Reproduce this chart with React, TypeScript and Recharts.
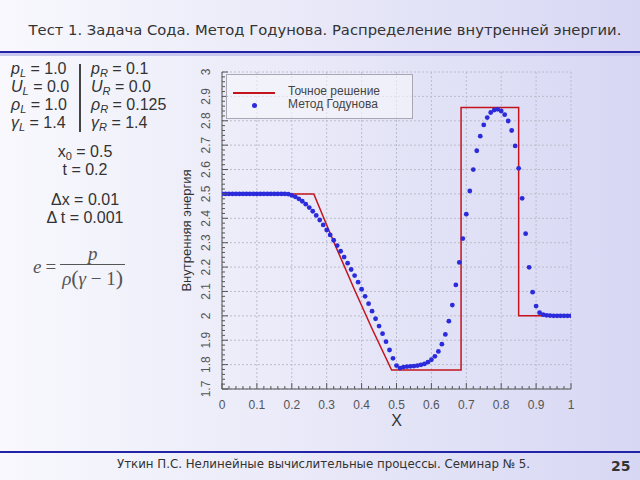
import React from "react";
import { ComposedChart, Line, Scatter, XAxis, YAxis, CartesianGrid } from "recharts";

// axis ticks
const xTicks = [0, 0.1, 0.2, 0.3, 0.4, 0.5, 0.6, 0.7, 0.8, 0.9, 1];
const yTicks = [1.7, 1.8, 1.9, 2, 2.1, 2.2, 2.3, 2.4, 2.5, 2.6, 2.7, 2.8, 2.9, 3];

// exact solution (Sod problem, t = 0.2)
const exactX = [0, 0.263, 0.32, 0.38, 0.43, 0.486, 0.685, 0.685, 0.85, 0.85, 1];
const exactE = [2.5, 2.5, 2.304, 2.106, 1.947, 1.778, 1.778, 2.854, 2.854, 2.0, 2.0];

// Godunov method, dx = 0.01
const godunovE = [
  2.5, 2.5, 2.5, 2.5, 2.5, 2.5, 2.5, 2.5, 2.5, 2.5,
  2.5, 2.5, 2.5, 2.5, 2.5, 2.5, 2.5, 2.5, 2.5, 2.499,
  2.494, 2.488, 2.48, 2.47, 2.458, 2.444, 2.429, 2.412, 2.393, 2.373,
  2.352, 2.332, 2.31, 2.288, 2.265, 2.241, 2.216, 2.19, 2.165, 2.138,
  2.109, 2.08, 2.05, 2.019, 1.988, 1.958, 1.927, 1.894, 1.86, 1.826,
  1.796, 1.786, 1.79, 1.792, 1.793, 1.794, 1.796, 1.799, 1.803, 1.81,
  1.82, 1.834, 1.854, 1.884, 1.924, 1.978, 2.044, 2.127, 2.219, 2.317,
  2.417, 2.512, 2.6, 2.677, 2.737, 2.783, 2.813, 2.834, 2.844, 2.847,
  2.84, 2.825, 2.799, 2.76, 2.697, 2.605, 2.482, 2.337, 2.199, 2.097,
  2.04, 2.013, 2.005, 2.002, 2.001, 2.0, 2.0, 2.0, 2.0, 2.0,
  2.0,
];

const exactData = exactX.map((x, i) => ({ x, e: exactE[i] }));
const godunovData = godunovE.map((e, i) => ({ x: i / 100, e }));

// minor ticks every 0.02 between the labelled ones
const withMinor = (major: number[]) =>
  major.flatMap((v, i) =>
    i < major.length - 1
      ? [0, 1, 2, 3, 4].map((k) => Math.round((v + 0.02 * k) * 100) / 100)
      : [v]
  );
const xMinor = withMinor(xTicks);
const yMinor = withMinor(yTicks);

const isMajor = (v: number) => Math.abs(v * 10 - Math.round(v * 10)) < 1e-6;
const fmt = (v: number) => String(Number(v.toFixed(1)));

const AXIS = "#555";
const LABEL = "#555";
const TICK_FONT = "Arial, 'Liberation Sans', sans-serif";

const XTick = (props: any) => {
  const { x, y, payload } = props;
  const v = payload.value;
  const major = isMajor(v);
  return (
    <g>
      <line x1={x} x2={x} y1={y} y2={y - (major ? 6 : 3)} stroke={AXIS} strokeWidth={1} />
      {major && (
        <text x={x} y={y + 20} textAnchor="middle" fontSize={12} fontFamily={TICK_FONT} fill={LABEL}>
          {fmt(v)}
        </text>
      )}
    </g>
  );
};

const YTick = (props: any) => {
  const { x, y, payload } = props;
  const v = payload.value;
  const major = isMajor(v);
  return (
    <g>
      <line x1={x} x2={x + (major ? 6 : 3)} y1={y} y2={y} stroke={AXIS} strokeWidth={1} />
      {major && (
        <text
          x={x - 12}
          y={y}
          textAnchor="middle"
          fontSize={12}
          fontFamily={TICK_FONT}
          fill={LABEL}
          transform={`rotate(-90, ${x - 12}, ${y})`}
        >
          {fmt(v)}
        </text>
      )}
    </g>
  );
};

const Dot = (props: any) => <circle cx={props.cx} cy={props.cy} r={2.4} fill="#2b2bdc" />;

const panelText: React.CSSProperties = {
  position: "absolute",
  fontFamily: "Arial, 'Liberation Sans', sans-serif",
  fontSize: 16,
  color: "#333",
  whiteSpace: "nowrap",
  lineHeight: "18px",
};

const Sub = ({ children }: { children: React.ReactNode }) => (
  <sub style={{ fontSize: 11, fontStyle: "italic", verticalAlign: "-3px", lineHeight: 0 }}>{children}</sub>
);

export default function App() {
  return (
    <div
      style={{
        position: "absolute",
        left: 0,
        top: 0,
        width: 640,
        height: 480,
        overflow: "hidden",
        background: "linear-gradient(to right, #f8f8fd 0%, #eaeaf9 45%, #d7d7f4 100%)",
      }}
    >
      {/* title */}
      <div
        style={{
          position: "absolute",
          left: 0,
          width: 650,
          top: 21,
          textAlign: "center",
          fontFamily: "'DejaVu Sans', Verdana, sans-serif",
          fontSize: 14.75,
          color: "#333",
        }}
      >
        Тест 1. Задача Сода. Метод Годунова. Распределение внутренней энергии.
      </div>
      <div style={{ position: "absolute", left: 0, top: 51, width: 640, height: 2, background: "#2323a8" }} />
      <div style={{ position: "absolute", left: 0, top: 53, width: 640, height: 3, background: "#c8c8ee" }} />

      {/* left panel */}
      <div style={{ ...panelText, left: 11, top: 60 }}>
        <div><i>p</i><Sub>L</Sub> = 1.0</div>
        <div><i>U</i><Sub>L</Sub> = 0.0</div>
        <div><i>ρ</i><Sub>L</Sub> = 1.0</div>
        <div><i>γ</i><Sub>L</Sub> = 1.4</div>
      </div>
      <div style={{ position: "absolute", left: 79, top: 64, width: 2, height: 68, background: "#444" }} />
      <div style={{ ...panelText, left: 91, top: 60 }}>
        <div><i>p</i><Sub>R</Sub> = 0.1</div>
        <div><i>U</i><Sub>R</Sub> = 0.0</div>
        <div><i>ρ</i><Sub>R</Sub> = 0.125</div>
        <div><i>γ</i><Sub>R</Sub> = 1.4</div>
      </div>
      <div style={{ ...panelText, left: 30, width: 110, top: 143, textAlign: "center" }}>
        <div>x<sub style={{ fontSize: 11, verticalAlign: "-3px", lineHeight: 0 }}>0</sub> = 0.5</div>
        <div>t = 0.2</div>
      </div>
      <div style={{ ...panelText, left: 30, width: 110, top: 191, textAlign: "center" }}>
        <div>Δx = 0.01</div>
        <div>Δ t = 0.001</div>
      </div>
      {/* formula */}
      <div
        style={{
          position: "absolute",
          left: 33,
          top: 244,
          fontFamily: "'Liberation Serif', 'Times New Roman', serif",
          fontSize: 19,
          color: "#555",
          display: "flex",
          alignItems: "center",
        }}
      >
        <i>e</i>
        <span style={{ margin: "0 4px" }}>=</span>
        <span style={{ display: "inline-flex", flexDirection: "column", alignItems: "center" }}>
          <i style={{ lineHeight: "20px" }}>p</i>
          <span style={{ borderTop: "1px solid #555", padding: "2px 2px 0", lineHeight: "22px" }}>
            <i>ρ</i>
            <span style={{ fontSize: 22 }}>(</span>
            <i>γ</i> − 1
            <span style={{ fontSize: 22 }}>)</span>
          </span>
        </span>
      </div>

      {/* chart */}
      <div style={{ position: "absolute", left: 170, top: 60 }}>
        <ComposedChart width={420} height={380} margin={{ top: 12, right: 19, bottom: 11, left: 12 }}>
          <CartesianGrid
            stroke="#bcbccb"
            strokeDasharray="2 2"
            verticalValues={xTicks}
            horizontalValues={yTicks}
          />
          <XAxis
            dataKey="x"
            type="number"
            domain={[0, 1]}
            ticks={xMinor}
            interval={0}
            tickSize={0}
            tickMargin={0}
            tick={<XTick />}
            tickLine={false}
            axisLine={{ stroke: AXIS }}
            height={40}
            allowDataOverflow
            label={{ value: "X", position: "insideBottom", offset: 3, fontSize: 16, fill: "#333", fontFamily: TICK_FONT }}
          />
          <YAxis
            dataKey="e"
            type="number"
            domain={[1.7, 3]}
            ticks={yMinor}
            interval={0}
            tickSize={0}
            tickMargin={0}
            tick={<YTick />}
            tickLine={false}
            axisLine={{ stroke: AXIS }}
            width={40}
            allowDataOverflow
            label={{
              value: "Внутренняя энергия",
              angle: -90,
              position: "insideLeft",
              offset: 4,
              fontSize: 13,
              fill: "#333",
              fontFamily: TICK_FONT,
              style: { textAnchor: "middle" },
            }}
          />
          <Line
            data={exactData}
            dataKey="e"
            type="linear"
            stroke="#c3141c"
            strokeWidth={1.5}
            dot={false}
            isAnimationActive={false}
          />
          <Scatter data={godunovData} dataKey="e" shape={<Dot />} isAnimationActive={false} />
        </ComposedChart>
      </div>

      {/* legend */}
      <div
        style={{
          position: "absolute",
          left: 226,
          top: 74,
          width: 185,
          height: 43,
          border: "1px solid #a8a8b4",
          background: "rgba(246,246,252,0.6)",
          fontFamily: TICK_FONT,
          fontSize: 12,
          color: "#444",
        }}
      >
        <div style={{ position: "absolute", left: 6, top: 17, width: 42, height: 2, background: "#c3141c" }} />
        <div style={{ position: "absolute", left: 61, top: 10, lineHeight: "13px" }}>Точное решение</div>
        <div style={{ position: "absolute", left: 25, top: 28, width: 5, height: 5, borderRadius: 3, background: "#2b2bdc" }} />
        <div style={{ position: "absolute", left: 61, top: 23, lineHeight: "13px" }}>Метод Годунова</div>
      </div>

      {/* footer */}
      <div style={{ position: "absolute", left: 0, top: 451, width: 640, height: 2, background: "#2323a8" }} />
      <div
        style={{
          position: "absolute",
          left: 117,
          top: 457,
          fontFamily: "'DejaVu Sans', Verdana, sans-serif",
          fontSize: 11.8,
          color: "#333",
          whiteSpace: "nowrap",
        }}
      >
        Уткин П.С. Нелинейные вычислительные процессы. Семинар № 5.
      </div>
      <div
        style={{
          position: "absolute",
          left: 611,
          top: 458,
          fontFamily: "'DejaVu Sans', Verdana, sans-serif",
          fontSize: 14,
          fontWeight: "bold",
          color: "#333",
        }}
      >
        25
      </div>
    </div>
  );
}
